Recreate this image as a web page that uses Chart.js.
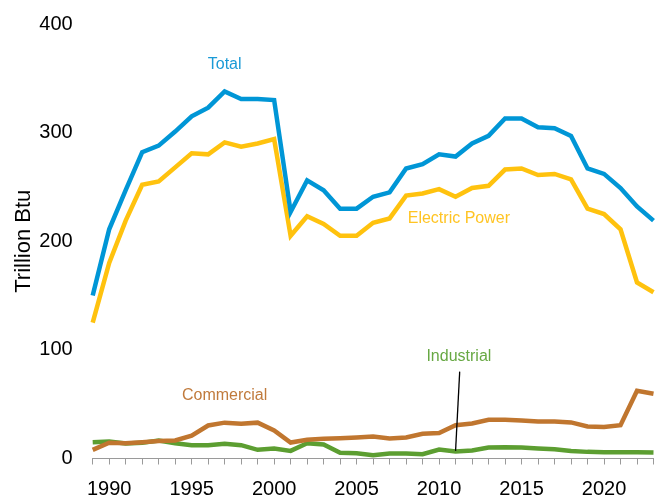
<!DOCTYPE html>
<html>
<head>
<meta charset="utf-8">
<script src="https://cdn.jsdelivr.net/npm/chart.js@4/dist/chart.umd.min.js"></script>
<style>
  html, body { margin: 0; padding: 0; background: #ffffff; }
  #wrap { width: 662px; height: 500px; position: relative; }
</style>
</head>
<body>
<div id="wrap"><canvas id="c" width="662" height="500"></canvas></div>
<script>
const years = [1989,1990,1991,1992,1993,1994,1995,1996,1997,1998,1999,2000,2001,2002,2003,2004,2005,2006,2007,2008,2009,2010,2011,2012,2013,2014,2015,2016,2017,2018,2019,2020,2021,2022,2023];
const total = [150,211,247,282,288,301,315,323,338,331,331,330,227,256,247,230,230,241,245,267,271,280,278,290,297,313,313,305,304,297,267,262,249,232,219];
const electricPower = [125,180,219,252,255,268,281,280,291,287,290,294,205,223,216,205,205,217,221,242,244,248,241,249,251,266,267,261,262,257,230,225,211,162,153];
const commercial = [8,14.5,14,15,16,16.6,21,30.4,33,32,33,25.8,14.7,17.2,18.1,18.7,19.4,20.3,18.4,19.4,22.7,23.4,30.7,32.3,35.6,35.6,35,34,34,33.2,29.5,28.9,30.7,62.4,59.6];
const industrial = [15,15.7,13.8,14.4,16.6,14,12.3,12.3,13.5,12.3,8,9.2,7,14,12.9,5.2,4.9,3.1,4.6,4.6,4,8.3,6.5,7.4,10.1,10.4,10.1,9.2,8.6,7,6.1,5.8,5.8,5.8,5.5];
const yTicks = [0,100,200,300,400];

const seriesNames = ['Total','Electric Power','Commercial','Industrial'];
const labelYears = [1997, 2011.2, 1997, 2011.2];
const labelValues = [363, 221, 57.5, 94];

const colors = {
  'Total': '#0096D6',
  'Electric Power': '#FFC20E',
  'Commercial': '#C0762F',
  'Industrial': '#5C9E31'
};
const textColors = {
  'Total': '#1A9AD6',
  'Electric Power': '#FFC423',
  'Commercial': '#C07A3C',
  'Industrial': '#67A843'
};

function pts(vals) { return years.map((y, i) => ({x: y, y: vals[i]})); }

const annot = {
  id: 'annot',
  afterDatasetsDraw(chart) {
    const ctx = chart.ctx, xs = chart.scales.x, ys = chart.scales.y;
    ctx.save();
    const iIdx = years.indexOf(2011);
    ctx.strokeStyle = '#000000';
    ctx.lineWidth = 1.3;
    ctx.beginPath();
    ctx.moveTo(xs.getPixelForValue(2011.25), ys.getPixelForValue(80));
    ctx.lineTo(xs.getPixelForValue(2011), ys.getPixelForValue(industrial[iIdx] + 0.5));
    ctx.stroke();
    ctx.font = '16px "Liberation Sans", Arial, sans-serif';
    ctx.textAlign = 'center';
    ctx.textBaseline = 'middle';
    seriesNames.forEach((n, i) => {
      ctx.fillStyle = textColors[n];
      ctx.fillText(n, xs.getPixelForValue(labelYears[i]), ys.getPixelForValue(labelValues[i]));
    });
    ctx.restore();
  }
};

new Chart(document.getElementById('c'), {
  type: 'line',
  data: {
    datasets: [
      {label: 'Total', data: pts(total), borderColor: colors['Total']},
      {label: 'Electric Power', data: pts(electricPower), borderColor: colors['Electric Power']},
      {label: 'Commercial', data: pts(commercial), borderColor: colors['Commercial']},
      {label: 'Industrial', data: pts(industrial), borderColor: colors['Industrial']}
    ].map(d => Object.assign(d, {borderWidth: 4.5, pointRadius: 0, tension: 0, fill: false, clip: false}))
  },
  options: {
    responsive: false,
    animation: false,
    layout: {padding: {top: 24, right: 8.5, left: 0, bottom: 0}},
    plugins: {legend: {display: false}, tooltip: {enabled: false}},
    scales: {
      x: {
        type: 'linear',
        min: years[0], max: years[years.length - 1],
        afterFit(s) { s.height = 41.5; },
        grid: {display: true, drawOnChartArea: false, drawTicks: true, tickLength: 6, color: '#9a9a9a', lineWidth: 1},
        border: {display: true, color: '#9a9a9a', width: 1},
        ticks: {
          stepSize: 1, autoSkip: false, maxRotation: 0, padding: 8.5,
          color: '#000000',
          font: {family: '"Liberation Sans", Arial, sans-serif', size: 20, lineHeight: 1.6},
          callback: v => (v % 5 === 0 ? String(v) : '')
        }
      },
      y: {
        min: 0, max: 400,
        afterFit(s) { s.width = 92.7; },
        afterBuildTicks(s) { s.ticks = yTicks.map(v => ({value: v})); },
        grid: {display: false, drawTicks: true, tickLength: 20},
        border: {display: false},
        ticks: {
          padding: 0, color: '#000000',
          font: {family: '"Liberation Sans", Arial, sans-serif', size: 20}
        },
        title: {
          display: true, text: 'Trillion Btu', color: '#000000',
          padding: {top: 11, bottom: 0},
          font: {family: '"Liberation Sans", Arial, sans-serif', size: 22}
        }
      }
    }
  },
  plugins: [annot]
});
</script>
</body>
</html>
